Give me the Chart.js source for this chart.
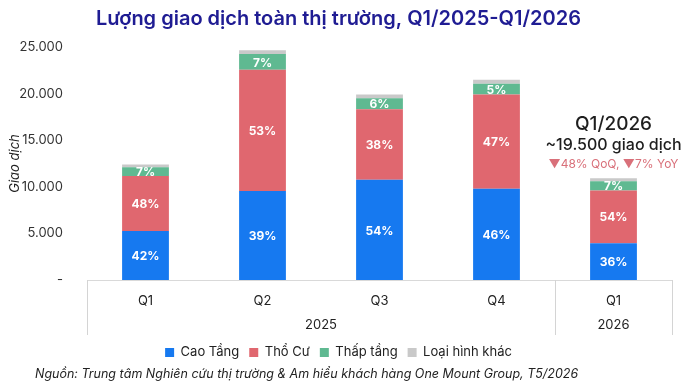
<!DOCTYPE html>
<html>
<head>
<meta charset="utf-8">
<script src="https://cdn.jsdelivr.net/npm/chart.js@4"></script>
<style>
  html, body { margin: 0; padding: 0; background: #fff; }
  #wrap { width: 690px; height: 384px; }
</style>
</head>
<body>
<div id="wrap"><canvas id="myChart"></canvas></div>
<script>
const quarters = ['Q1', 'Q2', 'Q3', 'Q4', 'Q1'];
const years = ['2025', '2025', '2025', '2025', '2026'];

// so giao dich theo loai hinh
const caoTang = [5250, 9550, 10750, 9800, 3950];
const thoCu = [5900, 13000, 7560, 10100, 5650];
const thapTang = [950, 1700, 1200, 1150, 1000];
const khac = [300, 400, 390, 430, 320];

// nhan % tren cot
const caoTangPct = ['42%', '39%', '54%', '46%', '36%'];
const thoCuPct = ['48%', '53%', '38%', '47%', '54%'];
const thapTangPct = ['7%', '7%', '6%', '5%', '7%'];

const yTicks = [0, 5000, 10000, 15000, 20000, 25000];

const noteTitle = 'Q1/2026';
const noteSub = '~19.500 giao dịch';
const noteChange = '▼48% QoQ, ▼7% YoY';
const sourceText = 'Nguồn: Trung tâm Nghiên cứu thị trường & Am hiểu khách hàng One Mount Group, T5/2026';

Chart.defaults.font.family = 'Inter';
Chart.defaults.color = '#222';

const extras = {
    id: 'extras',
    afterDatasetsDraw(chart) {
        const ctx = chart.ctx;
        const pcts = [caoTangPct, thoCuPct, thapTangPct];
        ctx.save();
        ctx.fillStyle = '#fff';
        ctx.font = 'bold 12px Inter';
        ctx.textAlign = 'center';
        ctx.textBaseline = 'middle';
        pcts.forEach((labels, di) => {
            const meta = chart.getDatasetMeta(di);
            meta.data.forEach((bar, i) => {
                const p = bar.getProps(['x', 'y', 'base'], true);
                ctx.fillText(labels[i], p.x, (p.y + p.base) / 2 + 1);
            });
        });
        ctx.restore();
    },
    afterDraw(chart) {
        const ctx = chart.ctx;
        const x = chart.scales.x;
        const y = chart.scales.y;
        const top = chart.chartArea.bottom;
        const step = x.getPixelForValue(1) - x.getPixelForValue(0);
        ctx.save();

        // khung truc x
        const edges = [x.getPixelForValue(0) - step / 2];
        for (let i = 1; i < years.length; i++) {
            if (years[i] !== years[i - 1]) edges.push(x.getPixelForValue(i) - step / 2);
        }
        edges.push(x.getPixelForValue(years.length - 1) + step / 2);
        ctx.strokeStyle = '#d4d4d4';
        ctx.lineWidth = 1;
        edges.forEach(px => {
            ctx.beginPath();
            ctx.moveTo(Math.round(px) + 0.5, top);
            ctx.lineTo(Math.round(px) + 0.5, top + 55);
            ctx.stroke();
        });

        // nhan nam
        ctx.fillStyle = '#222';
        ctx.font = '13px Inter';
        ctx.textAlign = 'center';
        ctx.textBaseline = 'middle';
        let start = 0;
        for (let i = 1; i <= years.length; i++) {
            if (i === years.length || years[i] !== years[start]) {
                const cx = (x.getPixelForValue(start) + x.getPixelForValue(i - 1)) / 2;
                ctx.fillText(years[start], cx, top + 45);
                start = i;
            }
        }

        // ghi chu Q1/2026
        const last = quarters.length - 1;
        const total = caoTang[last] + thoCu[last] + thapTang[last] + khac[last];
        const nx = x.getPixelForValue(last);
        const ny = y.getPixelForValue(total);
        ctx.fillStyle = '#1e1e1e';
        ctx.font = '500 19px Inter';
        ctx.fillText(noteTitle, nx, ny - 54);
        ctx.font = '500 16px Inter';
        ctx.fillText(noteSub, nx, ny - 33);
        ctx.fillStyle = '#d9707a';
        ctx.font = '12px Inter';
        ctx.fillText(noteChange, nx, ny - 14);

        // nguon
        ctx.fillStyle = '#222';
        ctx.font = 'italic 12.5px Inter';
        ctx.textAlign = 'left';
        ctx.fillText(sourceText, 35, 374);
        ctx.restore();
    }
};

const ctx = document.getElementById('myChart').getContext('2d');
const myChart = new Chart(ctx, {
    type: 'bar',
    data: {
        labels: quarters,
        datasets: [
            { label: 'Cao Tầng', data: caoTang, backgroundColor: '#1679f0' },
            { label: 'Thổ Cư', data: thoCu, backgroundColor: '#e0676f' },
            { label: 'Thấp tầng', data: thapTang, backgroundColor: '#5fb991' },
            { label: 'Loại hình khác', data: khac, backgroundColor: '#c9c9c9' }
        ]
    },
    options: {
        responsive: true,
        maintainAspectRatio: false,
        animation: false,
        barPercentage: 0.4,
        categoryPercentage: 1,
        layout: { padding: { left: 5, right: 18, top: 0, bottom: 15 } },
        plugins: {
            title: {
                display: true,
                text: 'Lượng giao dịch toàn thị trường, Q1/2025-Q1/2026',
                color: '#1f1c93',
                font: { size: 20, weight: '600' },
                padding: { top: 7, bottom: 16 }
            },
            legend: {
                position: 'bottom',
                labels: { boxWidth: 9, boxHeight: 9, padding: 10, font: { size: 13 }, color: '#222' }
            },
            tooltip: { enabled: false }
        },
        scales: {
            x: {
                stacked: true,
                grid: { display: false },
                border: { color: '#d9d9d9' },
                ticks: { padding: 5, font: { size: 13 }, color: '#222' },
                afterFit: s => { s.height = 56; }
            },
            y: {
                stacked: true,
                min: 0,
                max: 25000,
                grid: { display: false },
                border: { display: false },
                afterBuildTicks: s => { s.ticks = yTicks.map(v => ({ value: v })); },
                afterFit: s => { s.width = 82; },
                ticks: {
                    padding: 16,
                    font: { size: 13 },
                    color: '#333',
                    callback: v => v === 0 ? '-' : String(v).replace(/\B(?=(\d{3})+(?!\d))/g, '.')
                },
                title: {
                    display: true,
                    text: 'Giao dịch',
                    font: { size: 13, style: 'italic' },
                    color: '#222',
                    padding: { top: 2, bottom: 0 }
                }
            }
        }
    },
    plugins: [extras]
});
</script>
</body>
</html>
